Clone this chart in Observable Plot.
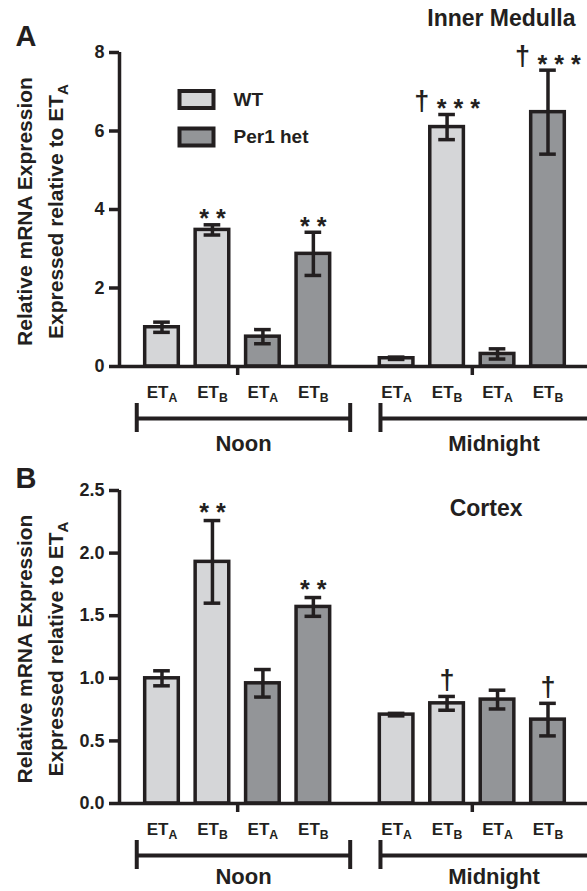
<!DOCTYPE html>
<html><head><meta charset="utf-8">
<script src="https://cdn.jsdelivr.net/npm/d3@7"></script>
<script src="https://cdn.jsdelivr.net/npm/@observablehq/plot@0.6"></script>
<style>
html,body{margin:0;padding:0;background:#fff;overflow:hidden;}
#chart svg{display:block;}
</style></head><body><div id="chart"></div>
<script>
// ---- data ----
const times = ["Noon", "Midnight"];
const genotypes = ["WT", "WT", "Per1 het", "Per1 het"];
const receptors = ["A", "B", "A", "B"];
const legendLabels = ["WT", "Per1 het"];

const medullaMean = [1.00, 3.48, 0.76, 2.87, 0.21, 6.10, 0.32, 6.48];
const medullaErr  = [0.13, 0.13, 0.18, 0.55, 0.03, 0.32, 0.13, 1.07];
const medullaSig  = ["", "* *", "", "* *", "", "† * * *", "", "† * * *"];
const medullaTicks = [0, 2, 4, 6, 8];

const cortexMean = [1.00, 1.93, 0.96, 1.57, 0.71, 0.80, 0.83, 0.67];
const cortexErr  = [0.06, 0.33, 0.11, 0.075, 0.01, 0.055, 0.075, 0.13];
const cortexSig  = ["", "* *", "", "* *", "", "†", "", "†"];
const cortexTicks = [0, 0.5, 1.0, 1.5, 2.0, 2.5];

const yLabel1 = "Relative mRNA Expression";
const yLabel2 = "Expressed relative to ET_A";

// ---- style / layout ----
const INK = "#231f20";
const FILLS = ["#d5d6d8", "#939598"];
const FONT = "'Liberation Sans', Arial, Helvetica, sans-serif";
const GROUP_OFFSET = 4.65;
const HALF = 0.333, CAP = 0.165, SW = 3.5;
const xDomain = [-0.842, 8.433];
const bracketStart = [-0.5, 4.33];
const bracketEnd = [3.73, 8.83];

function panel(cfg) {
  const frameH = cfg.height - cfg.mt - cfg.mb;
  const below = px => -px * cfg.ymax / frameH;
  const bars = cfg.means.map((m, i) => {
    const g = Math.floor(i / 4), j = i % 4;
    return {pos: j + g * GROUP_OFFSET, mean: m, lo: m - cfg.errs[i], hi: m + cfg.errs[i],
            sig: cfg.sigs[i], genotype: genotypes[j], label: "ET_" + receptors[j]};
  });
  const groupCenters = times.map((t, g) => d3.mean(bars.filter((b, i) => Math.floor(i / 4) === g), b => b.pos));
  const brackets = times.map((t, g) => ({name: t, start: bracketStart[g], end: bracketEnd[g]}));
  const caps = brackets.flatMap(b => [b.start, b.end]);

  const marks = [
    Plot.rectY(bars, {x1: d => d.pos - HALF, x2: d => d.pos + HALF, y1: 0, y2: "mean",
      fill: "genotype", stroke: INK, strokeWidth: SW}),
    Plot.ruleX(bars, {x: "pos", y1: "lo", y2: "hi", stroke: INK, strokeWidth: SW}),
    Plot.ruleY(bars, {y: "lo", x1: d => d.pos - CAP, x2: d => d.pos + CAP, stroke: INK, strokeWidth: SW}),
    Plot.ruleY(bars, {y: "hi", x1: d => d.pos - CAP, x2: d => d.pos + CAP, stroke: INK, strokeWidth: SW}),
    Plot.ruleY([0], {stroke: INK, strokeWidth: SW}),
    Plot.ruleX([xDomain[0]], {y1: 0, y2: cfg.ymax, stroke: INK, strokeWidth: SW}),
    Plot.axisY({ticks: cfg.ticks, tickSize: 10, tickPadding: 5, strokeWidth: SW, stroke: INK,
      tickFormat: cfg.fmt, label: null, fontSize: 18, fontWeight: "bold"}),
    Plot.ruleX(groupCenters, {y1: 0, y2: below(9), stroke: INK, strokeWidth: SW}),
    Plot.text(bars, {x: "pos", y: below(26), text: "label", fontSize: 17, lineAnchor: "middle"}),
    Plot.ruleY(brackets, {y: below(52), x1: "start", x2: "end", stroke: INK, strokeWidth: 4}),
    Plot.ruleX(caps, {y1: below(37), y2: below(66), stroke: INK, strokeWidth: 4}),
    Plot.text(brackets, {x: d => (d.start + d.end) / 2, y: below(cfg.labelBelow), text: "name", fontSize: 22, lineAnchor: "middle"}),
    Plot.text(bars, {x: "pos", y: "hi", text: "sig", fontSize: 27, lineAnchor: "bottom", dy: cfg.sigDy}),
    Plot.text([cfg.title], {frameAnchor: "top-right", textAnchor: "end", lineAnchor: "bottom",
      dx: cfg.titleDx, dy: cfg.titleDy, fontSize: 23}),
    Plot.text([cfg.letter], {frameAnchor: "top-left", textAnchor: "start", lineAnchor: "bottom",
      dx: -104, dy: cfg.letterDy, fontSize: 29}),
    Plot.text([yLabel1], {frameAnchor: "left", textAnchor: "middle", rotate: -90, dx: -94, dy: 2, fontSize: 21, lineAnchor: "middle"}),
    Plot.text([yLabel2], {frameAnchor: "left", textAnchor: "middle", rotate: -90, dx: -63, dy: 2, fontSize: 21, lineAnchor: "middle"})
  ];
  if (cfg.legend) {
    const rectSym = {draw(ctx) { ctx.rect(-17, -8.5, 34, 17); }};
    legendLabels.forEach((l, k) => {
      marks.push(Plot.dot([l], {frameAnchor: "top-left", dx: 77, dy: 47 + k * 37.5, symbol: rectSym,
        fill: d => d, stroke: INK, strokeWidth: 4}));
      marks.push(Plot.text([l], {frameAnchor: "top-left", dx: 114, dy: 47 + k * 37.5, textAnchor: "start",
        lineAnchor: "middle", fontSize: 19}));
    });
  }
  const svg = Plot.plot({
    width: 587, height: cfg.height,
    marginLeft: 119, marginRight: 0, marginTop: cfg.mt, marginBottom: cfg.mb,
    style: {fontFamily: FONT, fontWeight: "bold", fontSize: "17px", color: INK, background: "white", overflow: "visible"},
    x: {domain: xDomain, axis: null},
    y: {domain: [0, cfg.ymax]},
    color: {domain: legendLabels, range: FILLS},
    marks
  });
  typeset(svg);
  return svg;
}

const SVGNS = "http://www.w3.org/2000/svg";
function typeset(svg) {
  svg.querySelectorAll("text").forEach(t => {
    const spans = t.querySelectorAll("tspan");
    const targets = spans.length ? [...spans] : [t];
    targets.forEach(el => {
      const s = el.textContent;
      const m = s.match(/^(.*)_([AB])$/);
      if (m) {
        el.textContent = m[1];
        const sub = document.createElementNS(SVGNS, "tspan");
        sub.setAttribute("dy", "0.32em");
        sub.setAttribute("font-size", "0.72em");
        sub.textContent = m[2];
        el.appendChild(sub);
        return;
      }
      const k = s.indexOf("*");
      if (k >= 0) {
        el.textContent = s.slice(0, k);
        const st = document.createElementNS(SVGNS, "tspan");
        st.setAttribute("font-size", "0.93em");
        st.setAttribute("dy", "0.3em");
        st.textContent = s.slice(k);
        el.appendChild(st);
      }
    });
  });
}

const chart = document.getElementById("chart");
chart.appendChild(panel({height: 460, mt: 52, mb: 94, ymax: 8, ticks: medullaTicks, fmt: d => String(d),
  means: medullaMean, errs: medullaErr, sigs: medullaSig, title: "Inner Medulla", titleDx: -12, titleDy: -27,
  letter: "A", letterDy: -7, legend: true, labelBelow: 77, sigDy: -5}));
chart.appendChild(panel({height: 431, mt: 30, mb: 88, ymax: 2.5, ticks: cortexTicks, fmt: d3.format(".1f"),
  means: cortexMean, errs: cortexErr, sigs: cortexSig, title: "Cortex", titleDx: -65, titleDy: 25,
  letter: "B", letterDy: -3, legend: false, labelBelow: 73, sigDy: -7}));
</script></body></html>
